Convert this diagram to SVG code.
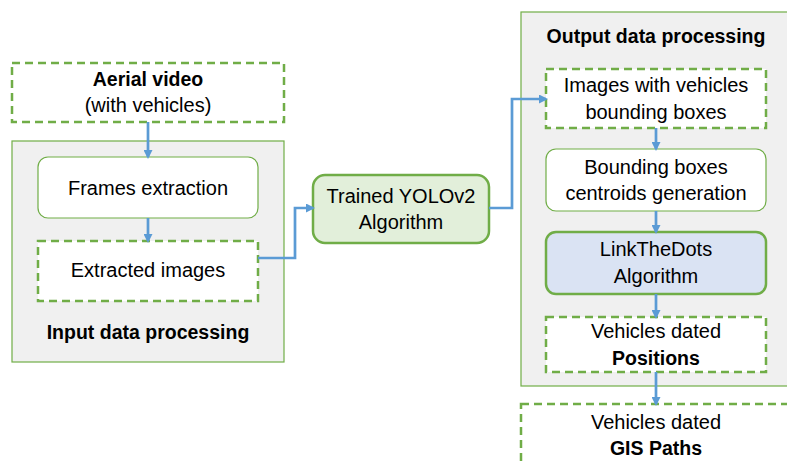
<svg xmlns="http://www.w3.org/2000/svg" width="787" height="462" viewBox="0 0 787 462">
<style>
text{font-family:"Liberation Sans",Arial,sans-serif;font-size:20px;fill:#000;text-anchor:middle}
.b{font-weight:bold;font-size:19.5px}
.grp{fill:#f0f0f0;stroke:#70ad47;stroke-width:1.2}
.dash{fill:#fff;stroke:#70ad47;stroke-width:2.5;stroke-dasharray:8,5}
.thin{fill:#fff;stroke:#70ad47;stroke-width:1.2}
.thick{stroke:#70ad47;stroke-width:2.5}
.c{fill:none;stroke:#5b9bd5;stroke-width:2.7;marker-end:url(#ah)}
</style>
<defs>
<marker id="ah" markerWidth="9" markerHeight="9" refX="7" refY="4.5" orient="auto" markerUnits="userSpaceOnUse">
<path d="M0,0 L9,4.5 L0,9 z" fill="#5b9bd5"/>
</marker>
</defs>
<rect width="787" height="462" fill="#fff"/>
<g id="input-group">
<rect class="grp" x="12" y="141" width="272" height="221"/>
<text class="b" x="148" y="339">Input data processing</text>
</g>
<g id="output-group">
<rect class="grp" x="521" y="12" width="280" height="374"/>
<text class="b" x="656" y="43">Output data processing</text>
</g>
<g id="aerial">
<rect class="dash" x="12" y="63" width="272" height="59"/>
<text class="b" x="148" y="86">Aerial video</text>
<text x="148" y="112">(with vehicles)</text>
</g>
<g id="frames">
<rect class="thin" x="38" y="157" width="220" height="61" rx="10"/>
<text x="148" y="195">Frames extraction</text>
</g>
<g id="extracted">
<rect class="dash" x="38" y="241" width="220" height="60"/>
<text x="148" y="277">Extracted images</text>
</g>
<g id="yolo">
<rect class="thick" fill="#e2efda" x="313" y="175" width="176" height="68" rx="12"/>
<text x="401" y="203">Trained YOLOv2</text>
<text x="401" y="229">Algorithm</text>
</g>
<g id="images-bb">
<rect class="dash" x="546" y="69" width="220" height="59"/>
<text x="656" y="92">Images with vehicles</text>
<text x="656" y="119">bounding boxes</text>
</g>
<g id="centroids">
<rect class="thin" x="546" y="149" width="220" height="62" rx="10"/>
<text x="656" y="174">Bounding boxes</text>
<text x="656" y="200">centroids generation</text>
</g>
<g id="linkthedots">
<rect class="thick" fill="#dae3f3" x="546" y="232" width="220" height="62" rx="10"/>
<text x="656" y="256">LinkTheDots</text>
<text x="656" y="283">Algorithm</text>
</g>
<g id="positions">
<rect class="dash" x="546" y="317" width="220" height="55"/>
<text x="656" y="338">Vehicles dated</text>
<text class="b" x="656" y="365">Positions</text>
</g>
<g id="gis">
<rect class="dash" x="521" y="404" width="290" height="70"/>
<text x="656" y="429">Vehicles dated</text>
<text class="b" x="656" y="455">GIS Paths</text>
</g>
<g id="connectors">
<path class="c" d="M148,122 V157"/>
<path class="c" d="M148,218 V241"/>
<path class="c" d="M258,258 H295 V208 H313"/>
<path class="c" d="M489,208 H512 V99 H546"/>
<path class="c" d="M656,128 V149"/>
<path class="c" d="M656,211 V232"/>
<path class="c" d="M656,294 V317"/>
<path class="c" d="M656,372 V404"/>
</g>
</svg>
